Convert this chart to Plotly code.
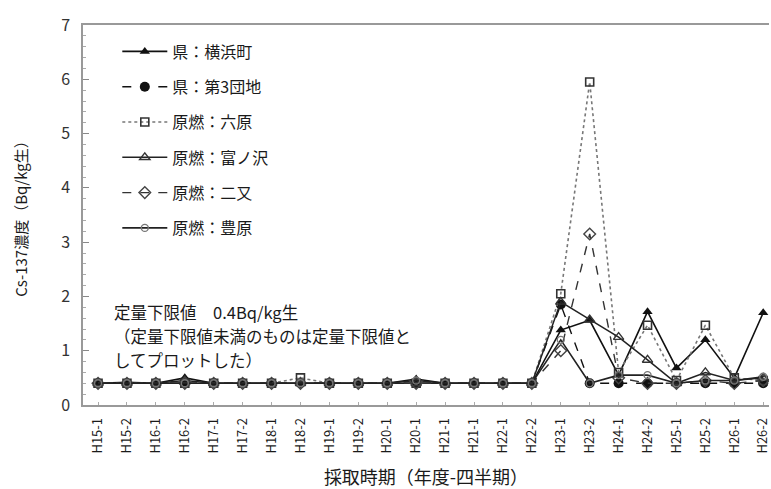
import plotly.graph_objects as go

# Sampling periods (fiscal year - half)
periods = ["H15-1", "H15-2", "H16-1", "H16-2", "H17-1", "H17-2", "H18-1", "H18-2",
           "H19-1", "H19-2", "H20-1", "H20-1", "H21-1", "H21-1", "H22-1", "H22-2",
           "H23-1", "H23-2", "H24-1", "H24-2", "H25-1", "H25-2", "H26-1", "H26-2"]

# Cs-137 concentration (Bq/kg fresh) per sampling point
yokohama = [0.4, 0.42, 0.4, 0.5, 0.4, 0.4, 0.4, 0.4, 0.4, 0.4, 0.4, 0.48,
            0.4, 0.4, 0.4, 0.4, 1.38, 1.56, 0.55, 1.72, 0.68, 1.2, 0.5, 1.7]
dai3danchi = [0.4, 0.4, 0.4, 0.4, 0.4, 0.4, 0.4, 0.4, 0.4, 0.4, 0.4, 0.4,
              0.4, 0.4, 0.4, 0.4, 1.85, 0.4, 0.4, 0.4, 0.4, 0.4, 0.4, 0.4]
rokuhara = [0.4, 0.4, 0.4, 0.4, 0.4, 0.4, 0.4, 0.5, 0.4, 0.4, 0.4, 0.4,
            0.4, 0.4, 0.4, 0.4, 2.05, 5.95, 0.6, 1.47, 0.45, 1.47, 0.5, 0.45]
tominosawa = [0.4, 0.4, 0.4, 0.45, 0.4, 0.4, 0.4, 0.4, 0.4, 0.4, 0.4, 0.4,
              0.4, 0.4, 0.4, 0.4, 1.9, 1.57, 1.25, 0.83, 0.4, 0.6, 0.45, 0.5]
futamata = [0.4, 0.4, 0.4, 0.4, 0.4, 0.4, 0.4, 0.4, 0.4, 0.4, 0.4, 0.4,
            0.4, 0.4, 0.4, 0.4, 1.0, 3.15, 0.5, 0.4, 0.4, 0.45, 0.4, 0.45]
toyohara = [0.4, 0.4, 0.4, 0.4, 0.4, 0.4, 0.4, 0.4, 0.4, 0.4, 0.4, 0.45,
            0.4, 0.4, 0.4, 0.4, 1.2, 0.4, 0.55, 0.55, 0.4, 0.45, 0.45, 0.52]

# Note on the quantification limit, one entry per printed line
note_lines = ["定量下限値　0.4Bq/kg生",
              "（定量下限値未満のものは定量下限値と",
              "してプロットした）"]

x = list(range(len(periods)))
FONT = "Noto Sans CJK JP"
INK = "#1a1a1a"

series = [
    ("県：横浜町", yokohama, "solid", "#111", 1.6,
     dict(symbol="triangle-up", size=9, color="#111")),
    ("県：第3団地", dai3danchi, "dash", "#111", 1.4,
     dict(symbol="circle", size=10, color="#111")),
    ("原燃：六原", rokuhara, "dot", "#777", 1.6,
     dict(symbol="square-open", size=8, color="#333", line=dict(width=1.6))),
    ("原燃：富ノ沢", tominosawa, "solid", "#222", 1.5,
     dict(symbol="triangle-up-open", size=9, color="#333", line=dict(width=1.4))),
    ("原燃：二又", futamata, "dash", "#333", 1.4,
     dict(symbol="diamond-open", size=9, color="#444", line=dict(width=1.4))),
    ("原燃：豊原", toyohara, "solid", "#222", 1.6,
     dict(symbol="circle-open", size=7, color="#777", line=dict(width=1.4))),
]

fig = go.Figure()
for i, (name, vals, dash, lc, lw, mk) in enumerate(series):
    fig.add_trace(go.Scatter(
        x=x, y=vals, name=name, mode="lines+markers",
        line=dict(color=lc, width=lw, dash=dash),
        marker=mk, legendgroup=f"g{i}",
    ))

# Note block in the lower-left of the plot, lines stacked 24 px apart
for k, line in enumerate(note_lines):
    fig.add_annotation(
        x=0.042, y=0.245 - k * 24 / 380, xref="paper", yref="paper",
        xanchor="left", yanchor="middle", align="left", showarrow=False,
        text=line, font=dict(family=FONT, size=16.5, color=INK),
    )

fig.update_layout(
    width=771, height=489,
    margin=dict(l=83, r=0, t=25, b=84),
    paper_bgcolor="white", plot_bgcolor="white",
    font=dict(family=FONT, color=INK),
    showlegend=True,
    legend=dict(
        x=0.05, y=0.975, xanchor="left", yanchor="top",
        bgcolor="rgba(0,0,0,0)", font=dict(family=FONT, size=16, color=INK),
        tracegroupgap=11.5, itemwidth=45,
    ),
    xaxis=dict(
        range=[-0.52, 23.2], tickmode="array", tickvals=x, ticktext=periods,
        tickangle=-90, tickfont=dict(family=FONT, size=13, color=INK),
        ticklabeloverflow="allow", ticklabelstandoff=6,
        showgrid=False, zeroline=False,
        showline=True, linecolor="#999", linewidth=1.5, mirror=True,
        ticks="inside", ticklen=3, tickcolor="#aaa",
        title=dict(text="採取時期（年度-四半期）", font=dict(family=FONT, size=18, color=INK),
                   standoff=20),
    ),
    yaxis=dict(
        range=[0, 7], dtick=1, tickfont=dict(family=FONT, size=16, color="#333"),
        showgrid=False, zeroline=False,
        showline=True, linecolor="#999", linewidth=1.5,
        ticks="inside", ticklen=6, tickcolor="#888",
        ticklabelstandoff=8,
        minor=dict(dtick=0.2, ticks="inside", ticklen=3, tickcolor="#aaa"),
        title=dict(text="Cs-137濃度（Bq/kg生）", font=dict(family=FONT, size=15, color=INK),
                   standoff=30),
    ),
)

fig.write_html("out.html")
